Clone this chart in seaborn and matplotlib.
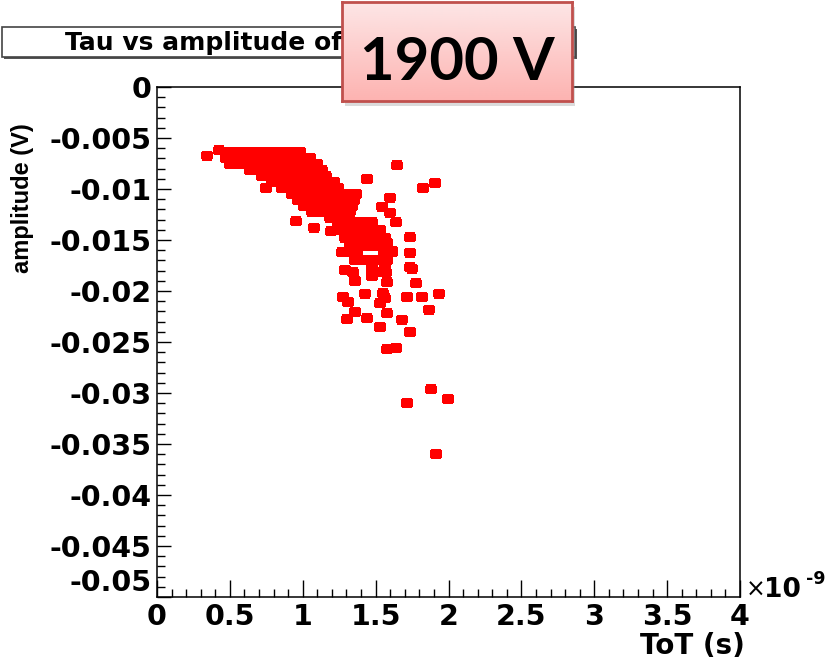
import matplotlib
matplotlib.use("Agg")
import matplotlib.pyplot as plt
import seaborn as sns
import numpy as np
import pandas as pd
from matplotlib.patches import Rectangle
from matplotlib.path import Path
from matplotlib.markers import MarkerStyle
from matplotlib.colors import LinearSegmentedColormap

# ---------------- data (ToT in units of 1e-9 s, amplitude in V) ----------------
tot_ns = [
    # dense band
    0.487, 0.542, 0.597, 0.652, 0.707, 0.762, 0.816, 0.871, 0.926, 0.981,
    0.473, 0.521, 0.569, 0.617, 0.666, 0.714, 0.762, 0.810, 0.858, 0.906, 0.954, 1.002, 1.050,
    0.501, 0.556, 0.611, 0.666, 0.720, 0.775, 0.830, 0.885, 0.940, 0.995, 1.050, 1.098,
    0.638, 0.693, 0.748, 0.803, 0.858, 0.913, 0.967, 1.022, 1.077, 1.132,
    0.720, 0.775, 0.830, 0.885, 0.940, 0.995, 1.050, 1.105, 1.160,
    0.789, 0.844, 0.899, 0.954, 1.009, 1.063, 1.118, 1.173, 1.214,
    0.858, 0.913, 0.967, 1.022, 1.077, 1.132, 1.187, 1.242,
    0.926, 0.981, 1.036, 1.091, 1.146, 1.201, 1.256, 1.310, 1.365,
    0.967, 1.022, 1.077, 1.132, 1.187, 1.242, 1.297, 1.352,
    1.009, 1.063, 1.118, 1.173, 1.228, 1.283, 1.338,
    1.063, 1.132, 1.201, 1.269, 1.324,
    1.187, 1.256,
    # middle group
    1.242, 1.297, 1.352, 1.407, 1.475,
    1.256, 1.310, 1.365, 1.420, 1.475, 1.530,
    1.290, 1.345, 1.400, 1.455, 1.509, 1.564,
    1.324, 1.379, 1.434, 1.489, 1.544,
    1.269, 1.324, 1.372, 1.557, 1.612,
    1.359, 1.413, 1.468, 1.530, 1.578,
    1.475, 1.564, 1.516, 1.571, 1.475,
    # scattered points
    0.343, 0.425, 0.748, 0.954, 1.077, 1.194, 1.647, 1.441, 1.825, 1.907,
    1.599, 1.544, 1.599, 1.640, 1.736, 1.578, 1.612, 1.736, 1.736, 1.750,
    1.290, 1.345, 1.359, 1.578, 1.777, 1.427, 1.276, 1.310, 1.551, 1.564,
    1.530, 1.715, 1.818, 1.935, 1.866, 1.359, 1.578, 1.304, 1.441, 1.681,
    1.530, 1.736, 1.578, 1.640, 1.715, 1.880, 1.997, 1.914,
]
amp_V = [
    -0.00637, -0.00637, -0.00637, -0.00637, -0.00637, -0.00637, -0.00637, -0.00637, -0.00637, -0.00637,
    -0.00696, -0.00696, -0.00696, -0.00696, -0.00696, -0.00696, -0.00696, -0.00696, -0.00696, -0.00696, -0.00696, -0.00696, -0.00696,
    -0.00755, -0.00755, -0.00755, -0.00755, -0.00755, -0.00755, -0.00755, -0.00755, -0.00755, -0.00755, -0.00755, -0.00755,
    -0.00814, -0.00814, -0.00814, -0.00814, -0.00814, -0.00814, -0.00814, -0.00814, -0.00814, -0.00814,
    -0.00873, -0.00873, -0.00873, -0.00873, -0.00873, -0.00873, -0.00873, -0.00873, -0.00873,
    -0.00931, -0.00931, -0.00931, -0.00931, -0.00931, -0.00931, -0.00931, -0.00931, -0.00931,
    -0.00990, -0.00990, -0.00990, -0.00990, -0.00990, -0.00990, -0.00990, -0.00990,
    -0.01049, -0.01049, -0.01049, -0.01049, -0.01049, -0.01049, -0.01049, -0.01049, -0.01049,
    -0.01108, -0.01108, -0.01108, -0.01108, -0.01108, -0.01108, -0.01108, -0.01108,
    -0.01167, -0.01167, -0.01167, -0.01167, -0.01167, -0.01167, -0.01167,
    -0.01225, -0.01225, -0.01225, -0.01225, -0.01225,
    -0.01284, -0.01284,
    -0.01324, -0.01324, -0.01324, -0.01324, -0.01324,
    -0.01402, -0.01402, -0.01402, -0.01402, -0.01402, -0.01402,
    -0.01480, -0.01480, -0.01480, -0.01480, -0.01480, -0.01480,
    -0.01559, -0.01559, -0.01559, -0.01559, -0.01559,
    -0.01618, -0.01618, -0.01618, -0.01618, -0.01618,
    -0.01696, -0.01696, -0.01696, -0.01696, -0.01696,
    -0.01775, -0.01775, -0.01814, -0.01814, -0.01853,
    -0.00676, -0.00618, -0.00990, -0.01314, -0.01382, -0.01412, -0.00765, -0.00902, -0.00990, -0.00941,
    -0.01088, -0.01176, -0.01235, -0.01324, -0.01471, -0.01529, -0.01608, -0.01627, -0.01765, -0.01784,
    -0.01794, -0.01814, -0.01902, -0.01912, -0.01922, -0.02029, -0.02059, -0.02108, -0.02020, -0.02069,
    -0.02118, -0.02059, -0.02059, -0.02029, -0.02186, -0.02206, -0.02216, -0.02275, -0.02265, -0.02284,
    -0.02353, -0.02402, -0.02569, -0.02559, -0.03098, -0.02961, -0.03059, -0.03598,
]

x_ticks = [0, 0.5, 1, 1.5, 2, 2.5, 3, 3.5, 4]
x_tick_labels = ["0", "0.5", "1", "1.5", "2", "2.5", "3", "3.5", "4"]
y_ticks = [0, -0.005, -0.01, -0.015, -0.02, -0.025, -0.03, -0.035, -0.04, -0.045, -0.05]
y_tick_labels = ["0", "-0.005", "-0.01", "-0.015", "-0.02", "-0.025", "-0.03",
                 "-0.035", "-0.04", "-0.045", "-0.05"]

title_text = "Tau vs amplitude of"
badge_text = "1900 V"
x_label = "ToT (s)"
y_label = "amplitude (V)"

df = pd.DataFrame({"tot": tot_ns, "amp": amp_V})

# ---------------- figure ----------------
sns.set_style("white")
plt.rcParams["font.family"] = ["DejaVu Sans"]
plt.rcParams["text.color"] = "black"
plt.rcParams["axes.labelcolor"] = "black"
plt.rcParams["xtick.color"] = "black"
plt.rcParams["ytick.color"] = "black"
plt.rcParams["axes.edgecolor"] = "black"

W, H = 832, 664
fig = plt.figure(figsize=(W / 100, H / 100), dpi=100)
fig.patch.set_facecolor("white")

def fx(px):
    return px / W

def fy(py):
    return 1 - py / H

ax = fig.add_axes([fx(157), fy(597), fx(740) - fx(157), fy(87) - fy(597)])

blob = MarkerStyle(Path([(-1.0, -0.55), (-0.75, -0.55), (-0.75, -0.8), (0.75, -0.8),
                         (0.75, -0.55), (1.0, -0.55), (1.0, 0.55), (0.75, 0.55),
                         (0.75, 0.8), (-0.75, 0.8), (-0.75, 0.55), (-1.0, 0.55),
                         (-1.0, -0.55)]))
sns.scatterplot(data=df, x="tot", y="amp", ax=ax, marker=blob, s=85,
                color="#ff0000", edgecolor="none", linewidth=0, legend=False, zorder=3)

ax.set_xlim(0, 4)
ax.set_ylim(-0.05, 0)
ax.set_xlabel("")
ax.set_ylabel("")
ax.set_xticks(x_ticks, x_tick_labels)
ax.set_yticks(y_ticks, y_tick_labels)
ax.xaxis.set_minor_locator(matplotlib.ticker.MultipleLocator(0.1))
ax.yaxis.set_minor_locator(matplotlib.ticker.MultipleLocator(0.001))
ax.tick_params(which="both", direction="in", bottom=True, left=True,
               top=False, right=False, color="black", labelcolor="black")
ax.tick_params(axis="x", which="major", length=12, width=1.0, pad=4)
ax.tick_params(axis="x", which="minor", length=6, width=1.0)
ax.tick_params(axis="y", which="major", length=10, width=1.0, pad=4)
ax.tick_params(axis="y", which="minor", length=6, width=1.0)
for lab in ax.get_xticklabels() + ax.get_yticklabels():
    lab.set_fontsize(20.5)
    lab.set_fontweight("bold")
    lab.set_family("DejaVu Sans")
    lab.set_color("black")
ax.get_yticklabels()[-1].set_va("bottom")
for sp in ax.spines.values():
    sp.set_visible(True)
    sp.set_color("black")
    sp.set_linewidth(1.1)
ax.set_facecolor("white")

# axis titles
fig.text(fx(745), fy(646), x_label, ha="right", va="center", fontsize=20,
         fontweight="bold", family="DejaVu Sans", color="black")
fig.text(fx(23), fy(198), y_label, ha="center", va="center", rotation=90,
         fontsize=17, fontweight="bold", family="Liberation Sans", color="black")

# x10^-9 multiplier
fig.text(fx(746), fy(597), "\u00d7", ha="left", va="baseline", fontsize=17,
         family="DejaVu Sans", color="black")
fig.text(fx(764), fy(597), "10", ha="left", va="baseline", fontsize=19,
         fontweight="bold", family="DejaVu Sans", color="black")
fig.text(fx(806), fy(584), "-9", ha="left", va="baseline", fontsize=12.5,
         fontweight="bold", family="DejaVu Sans", color="black")

# title box (ROOT style with shadow)
fig.patches.append(Rectangle((fx(4), fy(59)), fx(573), 30 / H, transform=fig.transFigure,
                             facecolor="#555555", edgecolor="none", zorder=1))
fig.patches.append(Rectangle((fx(2), fy(57)), fx(573), 30 / H, transform=fig.transFigure,
                             facecolor="white", edgecolor="#444444", linewidth=1.2, zorder=2))
fig.text(fx(65), fy(43), title_text, ha="left", va="center", fontsize=18,
         fontweight="bold", family="DejaVu Sans", color="black", zorder=3)

# pink "1900 V" callout with shadow and gradient
fig.patches.append(Rectangle((fx(345), fy(106)), fx(230), 99 / H, transform=fig.transFigure,
                             facecolor="#9a9a9a", alpha=0.35, edgecolor="none", zorder=4))
bx = fig.add_axes([fx(342), fy(101), fx(230), 99 / H], zorder=10)
grad = np.linspace(0, 1, 100).reshape(-1, 1)
cmap = LinearSegmentedColormap.from_list("pink", ["#fde6e6", "#fdb3b1"])
bx.imshow(grad, aspect="auto", cmap=cmap, extent=[0, 1, 0, 1], origin="upper")
bx.set_xlim(0, 1)
bx.set_ylim(0, 1)
bx.set_xticks([])
bx.set_yticks([])
bx.tick_params(left=False, bottom=False)
for sp in bx.spines.values():
    sp.set_color("#c0504d")
    sp.set_linewidth(2)
bx.text(0.5, 0.212, badge_text, transform=bx.transAxes, ha="center", va="baseline",
        fontsize=43, fontweight="bold", family="Lato", color="black")

fig.savefig("out.png", dpi=100, facecolor="white")
